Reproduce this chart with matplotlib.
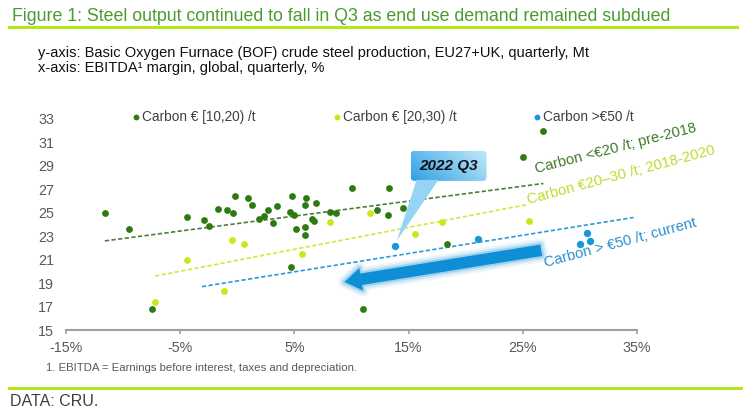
import numpy as np
import matplotlib
matplotlib.use("Agg")
import matplotlib.pyplot as plt
import matplotlib.patheffects as pe
from matplotlib import font_manager
from matplotlib.lines import Line2D
from matplotlib.patches import FancyArrowPatch, FancyBboxPatch, Polygon

# Values
# x = EBITDA margin (%), y = BOF crude steel production (Mt)
low_x = [-11.6, -9.5, -7.5, -4.4, -2.9, -2.5, -1.7, -0.9, -0.4, -0.2, 0.9, 1.3,
         1.9, 2.3, 2.7, 3.1, 3.5, 4.6, 4.8, 5.0, 5.1, 4.7, 5.9, 5.9, 5.9, 6.0,
         6.5, 6.7, 6.9, 8.1, 8.6, 10.0, 11.0, 26.8, 25.0, 13.3, 12.2, 14.5,
         13.2, 18.4]
low_y = [25.0, 23.6, 16.8, 24.6, 24.4, 23.9, 25.3, 25.2, 25.0, 26.4, 26.3, 25.7,
         24.5, 24.7, 25.2, 24.1, 25.6, 25.1, 26.4, 24.8, 23.6, 20.4, 23.8, 23.1,
         25.7, 26.3, 24.5, 24.3, 25.8, 25.1, 25.0, 27.1, 16.8, 32.0, 29.8, 27.1,
         25.2, 25.4, 24.8, 22.3]

mid_x = [-7.2, -4.4, -1.2, -0.5, 0.6, 5.7, 8.1, 11.6, 17.9, 15.6, 25.5]
mid_y = [17.4, 21.0, 18.3, 22.7, 22.3, 21.5, 24.2, 25.0, 24.2, 23.2, 24.3]

high_x = [13.8, 21.1, 30.0, 30.6, 30.9]
high_y = [22.2, 22.8, 22.3, 23.3, 22.6]

# dashed trend lines (start, end)
trend_low_x, trend_low_y = [-11.6, 26.8], [22.6, 27.5]
trend_mid_x, trend_mid_y = [-7.2, 25.4], [19.6, 25.7]
trend_high_x, trend_high_y = [-3.1, 34.7], [18.7, 24.6]

# big arrow (from, to) and the 2022 Q3 point
arrow_from = (26.6, 21.8)
arrow_to = (9.4, 19.1)
q3_point = (13.8, 22.2)
callout_at = (18.5, 29.0)

x_ticks = [-15, -5, 5, 15, 25, 35]
x_labels = ["-15%", "-5%", "5%", "15%", "25%", "35%"]
y_ticks = [15, 17, 19, 21, 23, 25, 27, 29, 31, 33]

legend_names = ["Carbon \u20ac [10,20) /t", "Carbon \u20ac [20,30) /t", "Carbon >\u20ac50 /t"]

DARK = "#2c7a10"
LIME = "#c4ea1c"
BLUE = "#1798da"
RULE = "#b5e61d"
GREY = "#595959"

names = {f.name for f in font_manager.fontManager.ttflist}
narrow = "Liberation Sans Narrow" if "Liberation Sans Narrow" in names else None
plt.rcParams["font.family"] = ["Liberation Sans", "DejaVu Sans"]

W, H = 743, 418
fig = plt.figure(figsize=(W / 100, H / 100), dpi=100)
ax = fig.add_axes([66 / W, 1 - 330 / H, 571 / W, 211 / H])

ax.set_xlim(-15, 35)
ax.set_ylim(15, 33)

# trend lines
ax.plot(trend_low_x, trend_low_y, color="#4d7d38", lw=1.2, dashes=(2.6, 1.4), zorder=2)
ax.plot(trend_mid_x, trend_mid_y, color="#cfe83c", lw=1.2, dashes=(2.6, 1.4), zorder=2)
ax.plot(trend_high_x, trend_high_y, color="#2a9ad8", lw=1.2, dashes=(2.6, 1.4), zorder=2)

# points
ax.scatter(low_x, low_y, s=24, color=DARK, lw=0, zorder=3)
ax.scatter(mid_x, mid_y, s=24, color=LIME, lw=0, zorder=3)
ax.scatter(high_x, high_y, s=28, color=BLUE, lw=0, zorder=3)

# big arrow with a soft glow
arr = FancyArrowPatch(arrow_from, arrow_to,
                      arrowstyle="simple,head_length=1.0,head_width=1.35,tail_width=0.68",
                      mutation_scale=12, color="#0e8fd5", lw=0, zorder=4,
                      shrinkA=0, shrinkB=0)
arr.set_path_effects([
    pe.Stroke(linewidth=9, foreground="#0e8fd5", alpha=0.08),
    pe.Stroke(linewidth=6, foreground="#0e8fd5", alpha=0.12),
    pe.Stroke(linewidth=3, foreground="#0e8fd5", alpha=0.25),
    pe.Normal()])
ax.add_patch(arr)

# rotated trend labels
ax.text(26.2, 28.4, "Carbon <\u20ac20 /t; pre-2018", color="#3d7a2a", fontsize=10.6,
        rotation=14.5, rotation_mode="anchor", ha="left", va="baseline", zorder=5)
ax.text(25.5, 25.75, "Carbon \u20ac20\u201330 /t; 2018-2020", color="#bedb2c", fontsize=10.6,
        rotation=15, rotation_mode="anchor", ha="left", va="baseline", zorder=5)
ax.text(27.0, 20.4, "Carbon > \u20ac50 /t; current", color="#2b8fcf", fontsize=10.6,
        rotation=15, rotation_mode="anchor", ha="left", va="baseline", zorder=5)

# axes styling
for s in ["top", "right", "left"]:
    ax.spines[s].set_visible(False)
ax.spines["bottom"].set_color("#a0a0a0")
ax.spines["bottom"].set_linewidth(1.5)
ax.set_xticks(x_ticks)
ax.set_xticklabels(x_labels)
ax.set_yticks(y_ticks)
ax.tick_params(axis="x", colors="#a0a0a0", length=3, width=1.2, pad=5,
               labelcolor=GREY, labelsize=10.3)
ax.tick_params(axis="y", length=0, pad=8.5, labelcolor=GREY, labelsize=10.3)

# callout "2022 Q3" with gradient box
cx, cy = ax.transData.transform(callout_at)
qx, qy = ax.transData.transform(q3_point)
bw, bh = 76, 30
tipx, tipy = qx + 2, qy + 5
x0, x1 = tipx - 2, cx + bw / 2 + 2
y0, y1 = tipy - 2, cy + bh / 2 + 2
cax = fig.add_axes([x0 / W, y0 / H, (x1 - x0) / W, (y1 - y0) / H], zorder=6)
cax.axis("off")
cax.patch.set_alpha(0)
wedge = Polygon([(cx - 32, cy - bh / 2 + 1), (cx - 10, cy - bh / 2 + 1), (tipx, tipy)],
                closed=True, facecolor="#95d4f4", edgecolor="none")
cax.add_patch(wedge)
box = FancyBboxPatch((cx - bw / 2, cy - bh / 2), bw, bh,
                     boxstyle="round,pad=0,rounding_size=4",
                     facecolor="none", edgecolor="none")
cax.add_patch(box)
gx = np.linspace(0, 1, 64)
gy = np.linspace(0, 1, 16)
t = np.clip(0.75 * gx[None, :] + 0.35 * gy[:, None], 0, 1)
c0 = np.array([0x30, 0xa2, 0xe4]) / 255
c1 = np.array([0xb5, 0xe1, 0xf8]) / 255
grad = c0[None, None, :] * (1 - t[..., None]) + c1[None, None, :] * t[..., None]
im = cax.imshow(grad, extent=(cx - bw / 2, cx + bw / 2, cy - bh / 2, cy + bh / 2),
                origin="lower", aspect="auto", interpolation="bilinear")
im.set_clip_path(box)
cax.set_xlim(x0, x1)
cax.set_ylim(y0, y1)
cax.text(cx, cy, "2022 Q3", ha="center", va="center", fontsize=11,
         fontweight="bold", fontstyle="italic", color="#111111")

# title, rules and notes
tkw = dict(fontsize=15.3, family=[narrow, "Liberation Sans"]) if narrow else dict(fontsize=12.8)
fig.text(12 / W, 1 - 21 / H, "Figure 1: Steel output continued to fall in Q3 as end use demand remained subdued",
         color="#4a9b2f", ha="left", va="baseline", **tkw)
fig.add_artist(Line2D([9 / W, 737 / W], [1 - 27 / H, 1 - 27 / H], color=RULE, lw=2.2))
fig.text(38 / W, 1 - 53 / H, "y-axis: Basic Oxygen Furnace (BOF) crude steel production, EU27+UK, quarterly, Mt",
         fontsize=10.5, color="#111111", ha="left", va="center")
fig.text(38 / W, 1 - 68 / H, "x-axis: EBITDA\u00b9 margin, global, quarterly, %",
         fontsize=10.5, color="#111111", ha="left", va="center")

leg_x = [136, 337, 537]
leg_c = [DARK, LIME, BLUE]
for lx, lc, name in zip(leg_x, leg_c, legend_names):
    fig.add_artist(Line2D([lx / W], [1 - 117 / H], marker="o", markersize=4.2,
                          color=lc, lw=0, markeredgewidth=0))
    fig.text((lx + 6) / W, 1 - 117 / H, name, fontsize=9.8, color="#404040",
             ha="left", va="center")

fig.text(46 / W, 1 - 368 / H, "1. EBITDA = Earnings before interest, taxes and depreciation.",
         fontsize=8.2, color=GREY, ha="left", va="center")
fig.add_artist(Line2D([9 / W, 743 / W], [1 - 388 / H, 1 - 388 / H], color=RULE, lw=2.2))
fig.text(10 / W, 1 - 402 / H, "DATA: CRU.", fontsize=11.5, color="#404040",
         ha="left", va="center")

fig.savefig("out.png", dpi=100)
